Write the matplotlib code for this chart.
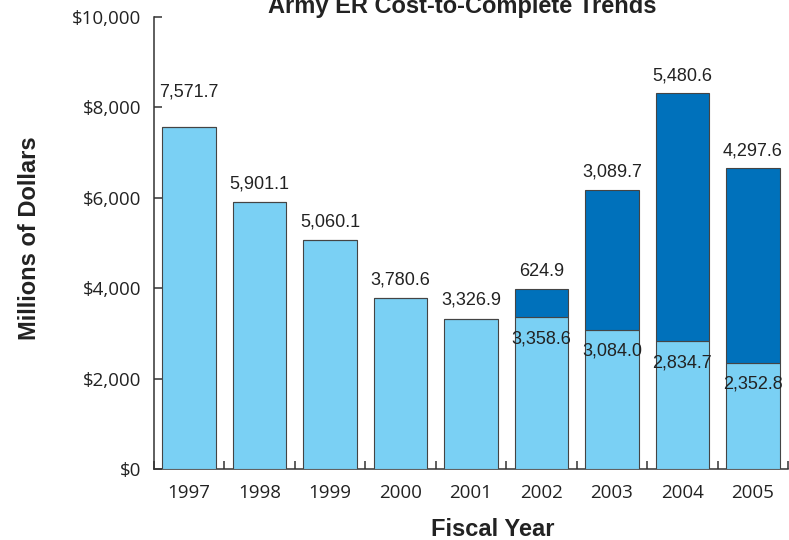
import matplotlib
matplotlib.use('Agg')
import matplotlib.pyplot as plt
from matplotlib.ticker import FixedLocator, FuncFormatter

# data (millions of dollars)
years = ['1997', '1998', '1999', '2000', '2001', '2002', '2003', '2004', '2005']
base_cost = [7571.7, 5901.1, 5060.1, 3780.6, 3326.9, 3358.6, 3084.0, 2834.7, 2352.8]
added_cost = [0, 0, 0, 0, 0, 624.9, 3089.7, 5480.6, 4297.6]
y_ticks = [0, 2000, 4000, 6000, 8000, 10000]

LIGHT = '#7ad0f4'
DARK = '#0071bb'
EDGE = '#444444'
AXIS = '#333333'

fig = plt.figure(figsize=(7.89, 5.4), dpi=100)
ax = fig.add_axes([154 / 789, 1 - 469 / 540, (788 - 154) / 789, (469 - 17) / 540])

x = list(range(len(years)))
ax.bar(x, base_cost, width=0.76, color=LIGHT, edgecolor=EDGE, linewidth=0.8, zorder=3)
ax.bar(x, added_cost, width=0.76, bottom=base_cost, color=DARK, edgecolor=EDGE,
       linewidth=0.8, zorder=3)

ax.set_xlim(-0.5, len(years) - 0.5)
ax.set_ylim(0, 10000)

for s in ['top', 'right']:
    ax.spines[s].set_visible(False)
for s in ['left', 'bottom']:
    ax.spines[s].set_color(AXIS)
    ax.spines[s].set_linewidth(1.1)

# value labels
for i in x:
    if added_cost[i] > 0:
        top = base_cost[i] + added_cost[i]
        ax.annotate(f'{added_cost[i]:,.1f}', (i, top), xytext=(0, 6.5),
                    textcoords='offset points', ha='center', va='bottom',
                    fontsize=13, family='Liberation Sans', color='#222222')
        ax.annotate(f'{base_cost[i]:,.1f}', (i, base_cost[i]), xytext=(0, -9.5),
                    textcoords='offset points', ha='center', va='top',
                    fontsize=13, family='Liberation Sans', color='#222222', zorder=5)
    else:
        off = 19 if i == 0 else 7
        ax.annotate(f'{base_cost[i]:,.1f}', (i, base_cost[i]), xytext=(0, off),
                    textcoords='offset points', ha='center', va='bottom',
                    fontsize=13, family='Liberation Sans', color='#222222')

# ticks
ax.yaxis.set_major_locator(FixedLocator(y_ticks))
ax.yaxis.set_major_formatter(FuncFormatter(lambda v, p: f'${v:,.0f}'))
ax.tick_params(axis='y', direction='in', length=6, width=1.1, color=AXIS,
               pad=9, labelsize=13.5, labelcolor='#222222')
for lab in ax.get_yticklabels():
    lab.set_family('Open Sans')

ax.set_xticks(x)
ax.set_xticklabels(years, family='Open Sans')
ax.tick_params(axis='x', which='major', length=0, pad=11, labelsize=13.5,
               labelcolor='#222222')
ax.set_xticks([i - 0.5 for i in range(len(years) + 1)], minor=True)
ax.tick_params(axis='x', which='minor', direction='in', length=6, width=1.1, color=AXIS)

fig.text(30 / 789, 1 - 238 / 540, 'Millions of Dollars', rotation=90, ha='center',
         va='center', fontsize=17, fontweight='bold', family='Liberation Sans',
         color='#222222')
fig.text(493 / 789, 1 - 530 / 540, 'Fiscal Year', ha='center', va='center',
         fontsize=17, fontweight='bold', family='Liberation Sans', color='#222222')
fig.text(462 / 789, 1 - 13 / 540, 'Army ER Cost-to-Complete Trends', ha='center',
         va='baseline', fontsize=17, fontweight='bold', family='Liberation Sans',
         color='#222222')

fig.savefig('out.png', dpi=100)
